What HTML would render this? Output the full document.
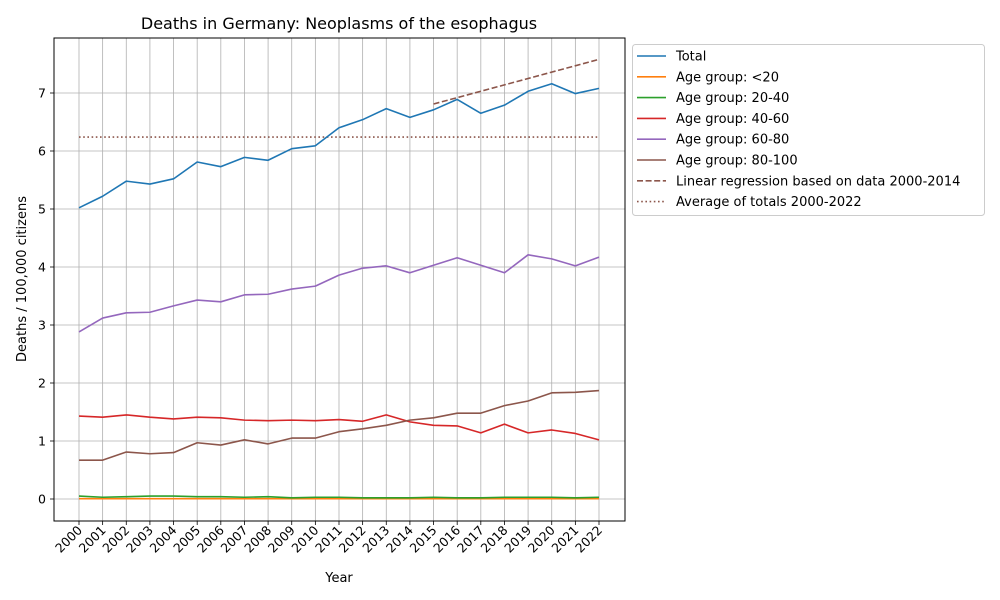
<!DOCTYPE html>
<html><head><meta charset="utf-8"><style>
body{margin:0;background:#fff}
svg{display:block;font-family:"DejaVu Sans","Liberation Sans",sans-serif}
</style></head><body>
<svg id="chart" width="1000" height="600" viewBox="0 0 1000 600" xmlns="http://www.w3.org/2000/svg">
<rect width="1000" height="600" fill="#fff"/>
<text x="339" y="29" text-anchor="middle" font-size="16">Deaths in Germany: Neoplasms of the esophagus</text>
<g id="grid"></g>
<g id="series"></g>
<rect x="54" y="38" width="571" height="483" fill="none" stroke="#000" stroke-width="1"/>
<g id="axes"></g>
<text x="339" y="582" text-anchor="middle" font-size="13">Year</text>
<text transform="translate(26,279) rotate(-90)" text-anchor="middle" font-size="13">Deaths / 100,000 citizens</text>
<g id="legend"></g>
</svg>
<script>
const years = [2000,2001,2002,2003,2004,2005,2006,2007,2008,2009,2010,2011,2012,2013,2014,2015,2016,2017,2018,2019,2020,2021,2022];
const total = [5.02,5.22,5.48,5.43,5.52,5.81,5.73,5.89,5.84,6.04,6.09,6.40,6.54,6.73,6.58,6.71,6.89,6.65,6.79,7.03,7.16,6.99,7.08];
const ageU20 = [0.005,0.005,0.005,0.005,0.005,0.005,0.005,0.005,0.005,0.005,0.005,0.005,0.005,0.005,0.005,0.005,0.005,0.005,0.005,0.005,0.005,0.005,0.005];
const age20_40 = [0.05,0.03,0.04,0.05,0.05,0.04,0.04,0.03,0.04,0.02,0.03,0.03,0.02,0.02,0.02,0.03,0.02,0.02,0.03,0.03,0.03,0.02,0.03];
const age40_60 = [1.43,1.41,1.45,1.41,1.38,1.41,1.40,1.36,1.35,1.36,1.35,1.37,1.34,1.45,1.33,1.27,1.26,1.14,1.29,1.14,1.19,1.13,1.02];
const age60_80 = [2.88,3.12,3.21,3.22,3.33,3.43,3.40,3.52,3.53,3.62,3.67,3.86,3.98,4.02,3.90,4.03,4.16,4.03,3.90,4.21,4.14,4.02,4.17];
const age80_100 = [0.67,0.67,0.81,0.78,0.80,0.97,0.93,1.02,0.95,1.05,1.05,1.16,1.21,1.27,1.36,1.40,1.48,1.48,1.61,1.69,1.83,1.84,1.87];
const regYears = [2015,2022];
const regValues = [6.81,7.58];
const avgTotal = [6.24];
const yTicks = [0,1,2,3,4,5,6,7];

const NS="http://www.w3.org/2000/svg";
const X = y => 79 + (y-2000)*(520/22);
const Y = v => 499 - v*58;
function mk(tag, attrs, parent){const e=document.createElementNS(NS,tag);for(const k in attrs)e.setAttribute(k,attrs[k]);parent.appendChild(e);return e;}
const grid=document.getElementById('grid'), axes=document.getElementById('axes'), ser=document.getElementById('series'), leg=document.getElementById('legend');

years.forEach(yr=>{
  const g=mk('line',{x1:X(yr),x2:X(yr),y1:38,y2:521,stroke:'#b0b0b0','stroke-width':0.8},grid);
  
  
  mk('line',{x1:X(yr),x2:X(yr),y1:521,y2:525,stroke:'#000','stroke-width':0.8},axes);
  const t=mk('text',{transform:`translate(${X(yr)+4},531) rotate(-45)`,'text-anchor':'end','font-size':12.5},axes);
  t.textContent=yr;
  
  
});
yTicks.forEach(v=>{
  const g=mk('line',{x1:54,x2:625,y1:Y(v),y2:Y(v),stroke:'#b0b0b0','stroke-width':0.8},grid);
  
  
  mk('line',{x1:50,x2:54,y1:Y(v),y2:Y(v),stroke:'#000','stroke-width':0.8},axes);
  const t=mk('text',{x:46,y:Y(v)+4.5,'text-anchor':'end','font-size':12.5},axes);
  t.textContent=v;
  
  
});

function line(xs, vs, color, name, dash){
  const pts=xs.map((x,i)=>X(x)+','+Y(vs[i])).join(' ');
  const p=mk('polyline',{points:pts,fill:'none',stroke:color,'stroke-width':1.6,'stroke-linejoin':'round'},ser);
  if(dash)p.setAttribute('stroke-dasharray',dash);
  
  
}
line([2000,2022],[avgTotal[0],avgTotal[0]],'#8c564b','average-line','1.6,2.6');
line(regYears,regValues,'#8c564b','regression-line','6,2.6');
line(years,ageU20,'#ff7f0e','series-under-20');
line(years,age20_40,'#2ca02c','series-20-40');
line(years,age40_60,'#d62728','series-40-60');
line(years,age60_80,'#9467bd','series-60-80');
line(years,age80_100,'#8c564b','series-80-100');
line(years,total,'#1f77b4','series-total');

const lb=mk('rect',{x:632.5,y:44.5,width:352,height:171,rx:3,fill:'#fff',stroke:'#ccc','stroke-width':1},leg);


const entries=[['Total','#1f77b4',null],['Age group: <20','#ff7f0e',null],['Age group: 20-40','#2ca02c',null],['Age group: 40-60','#d62728',null],['Age group: 60-80','#9467bd',null],['Age group: 80-100','#8c564b',null],['Linear regression based on data 2000-2014','#8c564b','6,2.6'],['Average of totals 2000-2022','#8c564b','1.6,2.6']];
entries.forEach((e,i)=>{
  const y=56+i*20.8;
  const l=mk('line',{x1:637,x2:666,y1:y,y2:y,stroke:e[1],'stroke-width':1.6},leg);
  if(e[2])l.setAttribute('stroke-dasharray',e[2]);
  
  
  const t=mk('text',{x:676,y:y+4.5,'font-size':13},leg);
  t.textContent=e[0];
  
  
});
</script>
</body></html>
